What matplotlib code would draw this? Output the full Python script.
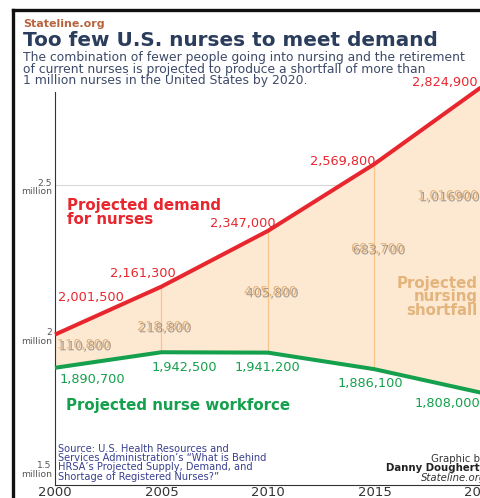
import matplotlib.pyplot as plt
import matplotlib.patheffects as pe
from matplotlib.lines import Line2D

# data
years = [2000, 2005, 2010, 2015, 2020]
demand = [2001500, 2161300, 2347000, 2569800, 2824900]
workforce = [1890700, 1942500, 1941200, 1886100, 1808000]
shortfall_txt = ["110,800", "218,800", "405,800", "683,700", "1,016900"]
demand_txt = ["2,001,500", "2,161,300", "2,347,000", "2,569,800", "2,824,900"]
work_txt = ["1,890,700", "1,942,500", "1,941,200", "1,886,100", "1,808,000"]

W, H = 481, 498
RED = "#e8262e"
GREEN = "#14a04c"
FILL = "#fde8d2"
TAN = "#e3b47c"
NAVY = "#2b3d5c"

fig = plt.figure(figsize=(W / 100, H / 100), dpi=100)

def fx(px):
    return px / W

def fy(py):
    return 1 - py / H

# axes: 1.5M at y=485px, 300 px per million, 2000 at x=55px
ax = fig.add_axes([fx(55), fy(485), fx(430), 405 / H])
ax.set_xlim(2000, 2020.2)
ax.set_ylim(1.5, 2.85)

dem = [d / 1e6 for d in demand]
wrk = [w / 1e6 for w in workforce]

ax.axhline(2.5, color="#d8d8d8", lw=0.8, zorder=0)
ax.axhline(2.0, color="#d8d8d8", lw=0.8, zorder=0)
ax.fill_between(years, wrk, dem, color=FILL, lw=0, zorder=1)
for i in range(1, 4):
    ax.plot([years[i], years[i]], [wrk[i], dem[i]], color="#f7c58c", lw=0.9, zorder=2)
ax.plot(years, dem, color=RED, lw=2.9, zorder=3, clip_on=False, solid_capstyle="butt")
ax.plot(years, wrk, color=GREEN, lw=2.9, zorder=3, clip_on=False, solid_capstyle="butt")

for s in ["top", "right"]:
    ax.spines[s].set_visible(False)
ax.spines["left"].set_bounds(1.5, 2.81)
ax.spines["left"].set_color("#333333")
ax.spines["bottom"].set_color("#333333")
ax.spines["left"].set_linewidth(0.8)
ax.spines["bottom"].set_linewidth(0.8)
ax.set_xticks([])
ax.set_yticks([])

# y axis labels
for val, yoff in [(2.5, -0.008), (2.0, -0.007), (1.5, 0.05)]:
    lab = ("%g" % val) + "\nmillion"
    ax.text(1999.85, val + yoff, lab, ha="right", va="center", fontsize=6.6,
            color="#555555", linespacing=0.95)

# x labels
for yr in years:
    fig.text(fx(55 + (yr - 2000) * 21.3), fy(486), str(yr), ha="center", va="top",
             fontsize=9.5, color="#333333")

# demand labels
dem_pos = [(58, 297, "left"), (110, 274, "left"), (210, 223, "left"),
           (310, 161, "left"), (478, 82, "right")]
for (x, y, ha), t in zip(dem_pos, demand_txt):
    fig.text(fx(x), fy(y), t, ha=ha, va="center", fontsize=9.3, color=RED)

# workforce labels
wrk_pos = [(60, 379, "left"), (152, 367, "left"), (235, 367, "left"),
           (338, 383, "left"), (480, 403, "right")]
for (x, y, ha), t in zip(wrk_pos, work_txt):
    fig.text(fx(x), fy(y), t, ha=ha, va="center", fontsize=9.3, color=GREEN)

# shortfall labels with shadow
shadow = [pe.SimplePatchShadow(offset=(1.3, -1.3), shadow_rgbFace="#666666", alpha=0.6),
          pe.Normal()]
sh_pos = [(57, 345, "left"), (137, 327, "left"), (244, 292, "left"),
          (351, 249, "left"), (478, 196, "right")]
for (x, y, ha), t in zip(sh_pos, shortfall_txt):
    fig.text(fx(x), fy(y), t, ha=ha, va="center", fontsize=9.2, color=TAN,
             path_effects=shadow)

fig.text(fx(67), fy(212.5), "Projected demand\nfor nurses", ha="left", va="center",
         fontsize=10.8, fontweight="bold", color=RED, linespacing=0.95)
fig.text(fx(66), fy(405), "Projected nurse workforce", ha="left", va="center",
         fontsize=10.8, fontweight="bold", color=GREEN)
fig.text(fx(478), fy(297), "Projected\nnursing\nshortfall", ha="right", va="center",
         fontsize=10.8, fontweight="bold", color=TAN, linespacing=0.9)

# source & credit
fig.text(fx(58), fy(444), "Source: U.S. Health Resources and\n"
         "Services Administration\u2019s \u201cWhat is Behind\n"
         "HRSA\u2019s Projected Supply, Demand, and\n"
         "Shortage of Registered Nurses?\u201d",
         ha="left", va="top", fontsize=7.1, color="#3a4090", linespacing=0.9)
fig.text(fx(486), fy(459), "Graphic by", ha="right", va="center", fontsize=7.3,
         color="#333333")
fig.text(fx(486), fy(468), "Danny Dougherty", ha="right", va="center", fontsize=7.3,
         fontweight="bold", color="#222222")
fig.text(fx(486), fy(478), "Stateline.org", ha="right", va="center", fontsize=7.3,
         style="italic", color="#333333")

# header
fig.text(fx(23), fy(24), "Stateline.org", ha="left", va="center", fontsize=8,
         fontweight="bold", color="#b8643e")
fig.text(fx(23), fy(40), "Too few U.S. nurses to meet demand", ha="left",
         va="center", fontsize=14.4, fontweight="bold", color=NAVY)
fig.text(fx(23), fy(69), "The combination of fewer people going into nursing and the retirement\n"
         "of current nurses is projected to produce a shortfall of more than\n"
         "1 million nurses in the United States by 2020.",
         ha="left", va="center", fontsize=8.9, color="#3d4a68", linespacing=0.88)

# black frame (left and top edges)
fig.add_artist(Line2D([fx(13), fx(13)], [fy(10), 0], color="#111111", lw=2.4))
fig.add_artist(Line2D([fx(13), 1], [fy(10), fy(10)], color="#111111", lw=2.4))

fig.savefig("out.png", dpi=100)
